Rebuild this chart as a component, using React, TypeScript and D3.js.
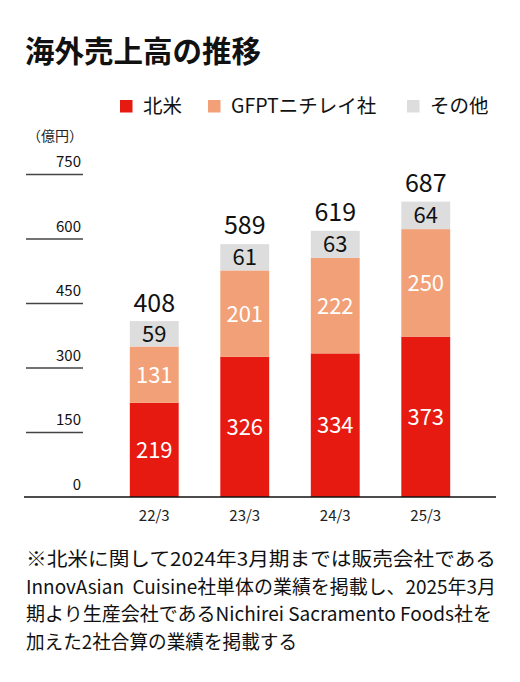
import * as d3 from 'd3'
import { useEffect, type ReactElement } from 'react'

const categories = ['22/3', '23/3', '24/3', '25/3']
const northAmerica = [219, 326, 334, 373]
const gfpt = [131, 201, 222, 250]
const others = [59, 61, 63, 64]
const totals = [408, 589, 619, 687]
const yTicks = [0, 150, 300, 450, 600, 750]

const seriesNames = ['北米', 'GFPTニチレイ社', 'その他']
const seriesColors = ['#e61a10', '#f2a077', '#dddddd']
const labelColors = ['#ffffff', '#ffffff', '#111111']

const noteLines = [
  '※北米に関して2024年3月期までは販売会社である',
  'InnovAsian  Cuisine社単体の業績を掲載し、2025年3月',
  '期より生産会社であるNichirei Sacramento Foods社を',
  '加えた2社合算の業績を掲載する',
]
const noteWidths = [470, 470, 466, 271]

const width = 520
const height = 682
const font = '"Noto Sans CJK JP", "Noto Sans", sans-serif'

type Segment = { key: number; cat: string; y0: number; y1: number; value: number }

export default function App(): ReactElement {
  useEffect(() => {
    document.body.style.margin = '0'
  }, [])

  const x = d3.scaleBand<string>().domain(categories).range([109, 471]).paddingInner(0.46).paddingOuter(0.23)
  const y = d3.scaleLinear().domain([0, 750]).range([497, 174.5])

  const rows = categories.map((cat, i) => ({ cat, s0: northAmerica[i]!, s1: gfpt[i]!, s2: others[i]! }))
  const stack = d3.stack<(typeof rows)[number]>().keys(['s0', 's1', 's2'])(rows)
  const segments: Segment[] = stack.flatMap((layer, k) =>
    layer.map((d) => ({ key: k, cat: d.data.cat, y0: d[0], y1: d[1], value: d[1] - d[0] })),
  )

  const legendX = [120, 208, 407]

  return (
    <svg
      width={width}
      height={height}
      style={{ display: 'block', background: '#fff', fontFamily: font }}
      role="img"
      aria-label="海外売上高の推移"
    >
      <text x={25} y={62} fontSize={29.5} fontWeight={700} fill="#111">
        海外売上高の推移
      </text>

      {seriesNames.map((name, i) => (
        <g key={name} transform={`translate(${legendX[i]},100)`}>
          <rect width={12.5} height={12.5} fill={seriesColors[i]} />
          <text x={23} y={13} fontSize={19.5} fill="#111">
            {name}
          </text>
        </g>
      ))}

      <text x={83} y={141} fontSize={14} textAnchor="end" fill="#222">
        （億円）
      </text>

      {yTicks.map((t) => (
        <g key={t}>
          {t > 0 && <line x1={26} x2={83} y1={y(t)} y2={y(t)} stroke="#444" strokeWidth={1.3} />}
          <text x={81} y={y(t) - 7.5} fontSize={15} textAnchor="end" fill="#111">
            {t}
          </text>
        </g>
      ))}

      {segments.map((s) => (
        <g key={`${s.key}-${s.cat}`}>
          <rect
            x={x(s.cat)}
            y={y(s.y1)}
            width={x.bandwidth()}
            height={y(s.y0) - y(s.y1)}
            fill={seriesColors[s.key]}
          />
          <text
            x={(x(s.cat) ?? 0) + x.bandwidth() / 2}
            y={(y(s.y0) + y(s.y1)) / 2 + 8}
            fontSize={22}
            textAnchor="middle"
            fill={labelColors[s.key]}
          >
            {s.value}
          </text>
        </g>
      ))}

      {categories.map((cat, i) => (
        <text
          key={cat}
          x={(x(cat) ?? 0) + x.bandwidth() / 2}
          y={y(totals[i]!) - 10}
          fontSize={25}
          textAnchor="middle"
          fill="#111"
        >
          {totals[i]}
        </text>
      ))}

      <line x1={24} x2={496} y1={y(0)} y2={y(0)} stroke="#111" strokeWidth={1.5} />

      {categories.map((cat) => (
        <text
          key={cat}
          x={(x(cat) ?? 0) + x.bandwidth() / 2}
          y={521}
          fontSize={15}
          textAnchor="middle"
          fill="#222"
        >
          {cat}
        </text>
      ))}

      {noteLines.map((line, i) => (
        <text
          key={i}
          x={26}
          y={566 + i * 27.7}
          fontSize={19}
          fill="#111"
          textLength={noteWidths[i]}
          lengthAdjust="spacingAndGlyphs"
          style={{ whiteSpace: 'pre' }}
        >
          {line}
        </text>
      ))}
    </svg>
  )
}
